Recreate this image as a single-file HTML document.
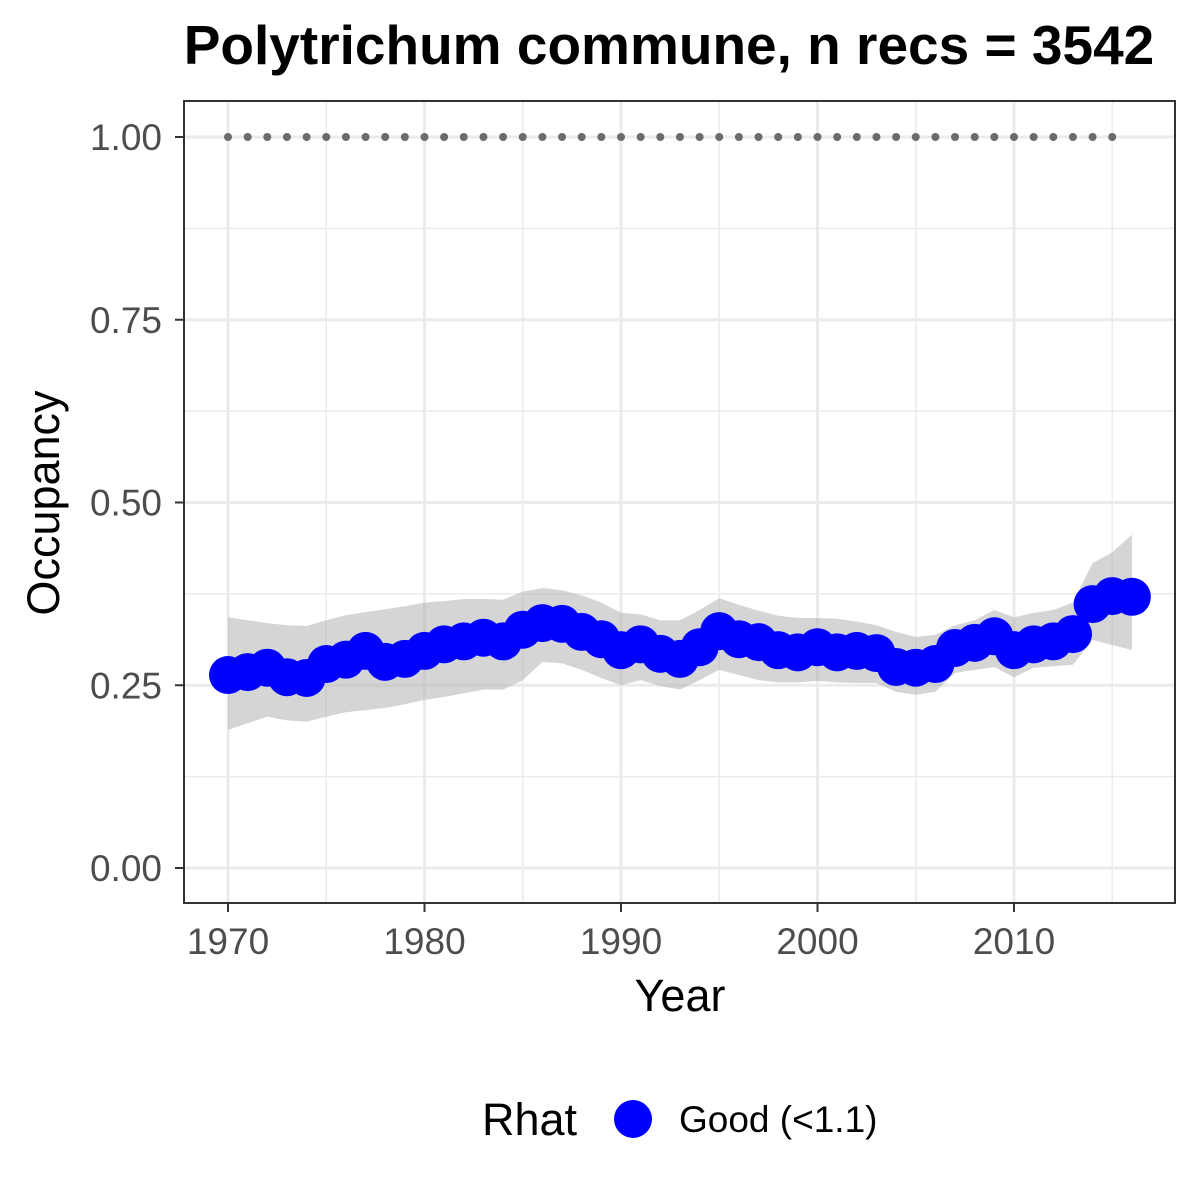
<!DOCTYPE html>
<html><head><meta charset="utf-8"><style>body{margin:0;background:#fff}svg{display:block}text{font-family:"Liberation Sans",Arial,sans-serif}</style></head>
<body>
<svg id="chart" width="1200" height="1200" viewBox="0 0 1200 1200">
<rect width="1200" height="1200" fill="#fff"/>
<text x="669" y="64" text-anchor="middle" font-size="55" font-weight="bold">Polytrichum commune, n recs = 3542</text>
<g id="grid"></g>
<g id="band"></g>
<g id="dots"></g>
<g id="points"></g>
<rect x="184" y="101" width="991" height="802" fill="none" stroke="#333" stroke-width="2"/>
<g id="axes"></g>
<text x="680" y="1011" text-anchor="middle" font-size="45">Year</text>
<text transform="translate(59,503) rotate(-90)" text-anchor="middle" font-size="45">Occupancy</text>
<g>
<text x="482" y="1135" font-size="45">Rhat</text>
<circle cx="633" cy="1119" r="19" fill="#0000ff"/>
<text x="679" y="1132" font-size="37">Good (&lt;1.1)</text>
</g>
</svg>
<script>
const years=[1970,1971,1972,1973,1974,1975,1976,1977,1978,1979,1980,1981,1982,1983,1984,1985,1986,1987,1988,1989,1990,1991,1992,1993,1994,1995,1996,1997,1998,1999,2000,2001,2002,2003,2004,2005,2006,2007,2008,2009,2010,2011,2012,2013,2014,2015,2016];
const occupancy=[0.264,0.268,0.274,0.261,0.26,0.279,0.285,0.297,0.282,0.286,0.297,0.306,0.31,0.315,0.31,0.326,0.335,0.334,0.323,0.313,0.298,0.306,0.293,0.286,0.302,0.324,0.313,0.309,0.298,0.295,0.302,0.295,0.297,0.294,0.275,0.274,0.279,0.301,0.308,0.317,0.298,0.306,0.31,0.32,0.361,0.372,0.371];
const upper=[0.343,0.339,0.335,0.332,0.331,0.339,0.346,0.350,0.354,0.358,0.363,0.365,0.368,0.368,0.367,0.378,0.383,0.380,0.373,0.363,0.349,0.347,0.339,0.339,0.353,0.369,0.360,0.352,0.345,0.342,0.342,0.341,0.337,0.332,0.323,0.316,0.319,0.332,0.339,0.353,0.343,0.349,0.353,0.363,0.417,0.432,0.456];
const lower=[0.189,0.198,0.207,0.202,0.200,0.207,0.213,0.216,0.219,0.224,0.230,0.234,0.239,0.244,0.244,0.257,0.282,0.280,0.271,0.260,0.250,0.257,0.249,0.244,0.257,0.271,0.264,0.257,0.254,0.254,0.256,0.254,0.253,0.253,0.241,0.237,0.241,0.267,0.271,0.275,0.261,0.274,0.276,0.278,0.312,0.305,0.298];
const refYears=[1970,1971,1972,1973,1974,1975,1976,1977,1978,1979,1980,1981,1982,1983,1984,1985,1986,1987,1988,1989,1990,1991,1992,1993,1994,1995,1996,1997,1998,1999,2000,2001,2002,2003,2004,2005,2006,2007,2008,2009,2010,2011,2012,2013,2014,2015];
const refValue=1.0;
const xTicks=[1970,1980,1990,2000,2010];
const xMinor=[1975,1985,1995,2005,2015];
const yTicks=[0,0.25,0.5,0.75,1];
const yTickLabels=["0.00","0.25","0.50","0.75","1.00"];
const yMinor=[0.125,0.375,0.625,0.875];

const NS="http://www.w3.org/2000/svg";
const X=v=>228+(v-1970)*(1014-228)/40;
const Y=v=>868-v*731;
function mk(tag,attrs,parent){const e=document.createElementNS(NS,tag);for(const k in attrs)e.setAttribute(k,attrs[k]);document.getElementById(parent).appendChild(e);return e;}

xMinor.forEach(t=>{const e=mk('line',{x1:X(t),x2:X(t),y1:101,y2:903,stroke:'#ebebeb','stroke-width':1.5},'grid');

});
yMinor.forEach(t=>{const e=mk('line',{x1:184,x2:1175,y1:Y(t),y2:Y(t),stroke:'#ebebeb','stroke-width':1.5},'grid');

});
xTicks.forEach(t=>{const e=mk('line',{x1:X(t),x2:X(t),y1:101,y2:903,stroke:'#ebebeb','stroke-width':3},'grid');

});
yTicks.forEach(t=>{const e=mk('line',{x1:184,x2:1175,y1:Y(t),y2:Y(t),stroke:'#ebebeb','stroke-width':3},'grid');

});

let d='';
years.forEach((yr,i)=>{d+=(i?'L':'M')+X(yr)+','+Y(upper[i]);});
for(let i=years.length-1;i>=0;i--)d+='L'+X(years[i])+','+Y(lower[i]);
const band=mk('path',{d:d+'Z',fill:'#b3b3b3','fill-opacity':0.55},'band');



refYears.forEach(yr=>{const c=mk('circle',{cx:X(yr),cy:Y(refValue),r:4,fill:'#6b6b6b'},'dots');

});

years.forEach((yr,i)=>{const c=mk('circle',{cx:X(yr),cy:Y(occupancy[i]),r:19,fill:'#0000ff'},'points');

});

xTicks.forEach(t=>{const l=mk('line',{x1:X(t),x2:X(t),y1:903,y2:912,stroke:'#333','stroke-width':2},'axes');


const tx=mk('text',{x:X(t),y:954,'text-anchor':'middle','font-size':37,fill:'#4d4d4d'},'axes');tx.textContent=t;

});
yTicks.forEach((t,i)=>{const l=mk('line',{x1:175,x2:184,y1:Y(t),y2:Y(t),stroke:'#333','stroke-width':2},'axes');


const tx=mk('text',{x:162,y:Y(t)+13,'text-anchor':'end','font-size':37,fill:'#4d4d4d'},'axes');tx.textContent=yTickLabels[i];

});
</script>
</body></html>
